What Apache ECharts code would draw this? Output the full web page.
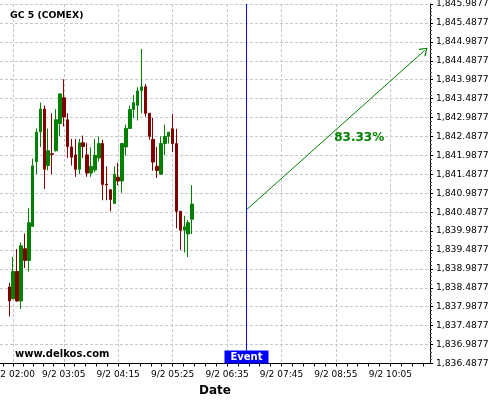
<!DOCTYPE html>
<html>
<head>
<meta charset="utf-8">
<script src="https://cdn.jsdelivr.net/npm/echarts@6/dist/echarts.min.js"></script>
<style>html,body{margin:0;padding:0;background:#fff;}#chart{width:500px;height:400px;}</style>
</head>
<body>
<div id="chart"></div>
<script>
// ---- data (5-minute candles, 9/2) ----
const candleTimes = ['01:55','02:00','02:05','02:10','02:15','02:20','02:25','02:30','02:35','02:40','02:45','02:50','02:55','03:00','03:05','03:10','03:15','03:20','03:25','03:30','03:35','03:40','03:45','03:50','03:55','04:00','04:05','04:10','04:15','04:20','04:25','04:30','04:35','04:40','04:45','04:50','04:55','05:00','05:05','05:10','05:15','05:20','05:25','05:30','05:35','05:40','05:45','05:50'];
const opens  = [1838.51,1838.20,1838.92,1838.14,1839.52,1839.21,1840.11,1841.82,1842.61,1843.21,1841.72,1842.03,1842.11,1842.83,1843.51,1842.93,1842.21,1842.00,1841.62,1842.32,1842.00,1841.52,1841.60,1841.92,1842.30,1841.23,1841.08,1840.72,1841.41,1841.31,1842.21,1842.70,1843.20,1843.31,1843.70,1843.80,1843.10,1842.41,1841.70,1841.49,1842.30,1842.49,1842.69,1842.30,1840.51,1840.01,1839.91,1840.30];
const closes = [1838.14,1838.92,1838.14,1839.60,1839.21,1840.21,1841.71,1842.60,1843.21,1841.62,1842.11,1842.01,1842.93,1843.61,1843.00,1842.22,1841.94,1841.62,1842.32,1842.22,1841.52,1841.70,1841.99,1842.30,1841.22,1841.21,1840.82,1841.49,1841.31,1842.30,1842.70,1843.20,1843.38,1843.69,1843.80,1843.10,1842.49,1841.81,1841.59,1842.30,1842.49,1842.60,1842.30,1840.51,1840.01,1840.10,1840.21,1840.70];
const lows   = [1837.73,1838.18,1838.12,1837.93,1839.01,1838.92,1840.10,1841.49,1842.21,1841.10,1841.59,1841.49,1842.09,1842.49,1842.75,1841.92,1841.72,1841.42,1841.49,1841.92,1841.42,1841.42,1841.54,1841.82,1840.80,1840.80,1840.51,1840.70,1841.20,1841.00,1841.99,1842.70,1842.98,1842.91,1843.10,1843.01,1842.40,1841.58,1841.39,1841.49,1841.99,1842.30,1842.08,1840.06,1839.49,1839.42,1839.30,1839.91];
const highs  = [1838.62,1839.30,1839.51,1839.69,1839.92,1840.59,1841.90,1842.70,1843.38,1843.31,1842.70,1843.10,1843.21,1843.63,1844.00,1843.10,1842.42,1842.42,1842.42,1842.51,1842.31,1842.20,1842.42,1842.49,1842.40,1841.70,1841.08,1841.70,1841.79,1842.30,1842.80,1843.30,1843.58,1843.79,1844.80,1843.87,1843.10,1842.98,1842.21,1842.49,1842.80,1842.60,1843.08,1842.69,1840.51,1840.39,1840.28,1841.20];

// axis
const axisStart = '01:43';
const axisEnd = '10:56';
const datePrefix = '9/2 ';
const tickLabels = ['02:00','03:05','04:15','05:25','06:35','07:45','08:55','10:05'];
const yMin = 1836.4877, yMax = 1845.9877, yStep = 0.5;

// annotations
const titleText = 'GC 5 (COMEX)';
const watermark = 'www.delkos.com';
const eventTime = '07:00';
const eventText = 'Event';
const arrowFrom = ['07:00', 1840.55];
const arrowTo   = ['10:49', 1844.76];
const forecastText = '83.33%';
const forecastAt = ['09:25', 1842.44];

// ---- build ----
function toMin(s){const p=s.split(':').map(Number);return p[0]*60+p[1];}
function fromMin(m){return String(Math.floor(m/60)).padStart(2,'0')+':'+String(m%60).padStart(2,'0');}
const t0 = toMin(axisStart), t1 = toMin(axisEnd);
const categories = [];
for (let m = t0; m <= t1; m++) categories.push(fromMin(m));
const idxOf = t => toMin(t) - t0;

const candleData = categories.map(() => '-');
candleTimes.forEach((t, i) => { candleData[idxOf(t)] = [opens[i], closes[i], lows[i], highs[i]]; });

const li = tickLabels.map(idxOf);
const labelIdx = new Set(li);
const tickIdx = new Set(li);
for (let k = 0; k < li.length - 1; k++) {
  for (let j = 1; j < 5; j++) tickIdx.add(li[k] + Math.round(j * (li[k+1] - li[k]) / 5));
}
for (let m = li[0] - 13; m >= 0; m -= 13) tickIdx.add(m);
for (let m = li[li.length-1] + 14; m < categories.length; m += 14) tickIdx.add(m);

function fmtNum(v){
  const k = Math.round((v - yMin) / yStep);
  const val = yMin + k * yStep;
  const s = val.toFixed(4).split('.');
  return s[0].replace(/\B(?=(\d{3})+(?!\d))/g, ',') + '.' + s[1];
}

const FONT = 'DejaVu Sans';
const GREEN = '#008000';
const BLUE = '#0000ff';
const eIdx = idxOf(eventTime);
const chart = echarts.init(document.getElementById('chart'), null, {renderer: 'canvas'});
chart.setOption({
  animation: false,
  backgroundColor: '#ffffff',
  title: [
    {text: titleText, left: 10, top: 11, padding: 0,
     textStyle: {fontFamily: FONT, fontSize: 9.3, fontWeight: 'bold', color: '#000'}},
    {text: watermark, left: 15, top: 349, padding: 0,
     textStyle: {fontFamily: FONT, fontSize: 10, fontWeight: 'bold', color: '#000'}}
  ],
  grid: {left: 0, right: 70, top: 4, bottom: 36.5, containLabel: false, outerBoundsMode: 'none'},
  xAxis: {
    type: 'category',
    data: categories,
    boundaryGap: false,
    name: 'Date',
    nameLocation: 'middle',
    nameGap: 19,
    nameTextStyle: {fontFamily: FONT, fontSize: 12, fontWeight: 'bold', color: '#000'},
    axisLine: {show: true, lineStyle: {color: '#000', width: 1}},
    axisTick: {show: true, length: 3, interval: (i) => tickIdx.has(i), lineStyle: {color: '#000'}},
    axisLabel: {interval: (i) => labelIdx.has(i), formatter: v => datePrefix + v, margin: 7,
                hideOverlap: false,
                fontFamily: FONT, fontSize: 9, color: '#000'},
    splitLine: {show: true, interval: (i) => labelIdx.has(i),
                lineStyle: {color: '#c8c8c8', type: [3, 2], width: 1}}
  },
  yAxis: {
    type: 'value',
    position: 'right',
    min: yMin, max: yMax, interval: yStep,
    axisLine: {show: true, lineStyle: {color: '#000', width: 1}},
    axisTick: {show: true, inside: false, length: 3, lineStyle: {color: '#000'}},
    minorTick: {show: true, splitNumber: 5, length: 2, lineStyle: {color: '#555'}},
    axisLabel: {formatter: fmtNum, margin: 6, fontFamily: FONT, fontSize: 9.2, color: '#000'},
    splitLine: {show: true, lineStyle: {color: '#c8c8c8', type: [3, 2], width: 1}}
  },
  series: [{
    type: 'candlestick',
    data: candleData,
    barWidth: 3,
    itemStyle: {color: GREEN, color0: '#800000', borderColor: GREEN, borderColor0: '#800000', borderWidth: 1},
    markLine: {
      silent: true,
      animation: false,
      symbol: ['none', 'none'],
      label: {show: false},
      lineStyle: {color: GREEN, width: 1, type: 'solid', opacity: 1},
      data: [
        [
          {coord: [idxOf(arrowFrom[0]), arrowFrom[1]], symbol: 'none'},
          {coord: [idxOf(arrowTo[0]), arrowTo[1]],
           symbol: 'path://M0,0 L6,8 L5,9 L0,2.2 L-5,9 L-6,8 Z', symbolSize: [10, 8]}
        ]
      ]
    },
    markPoint: {
      silent: true,
      animation: false,
      data: [
        {coord: [idxOf(forecastAt[0]), forecastAt[1]], symbol: 'rect', symbolSize: 0,
         label: {show: true, position: 'inside', formatter: forecastText, color: GREEN,
                 fontFamily: FONT, fontSize: 12, fontWeight: 'bold'}}
      ]
    }
  }, {
    type: 'line',
    name: 'event',
    data: [[eIdx, yMin], [eIdx, yMax]],
    symbol: 'none',
    silent: true,
    lineStyle: {color: BLUE, width: 1},
    itemStyle: {color: BLUE},
    markPoint: {
      silent: true,
      animation: false,
      data: [
        {coord: [eIdx, yMin], symbol: 'rect', symbolSize: [44, 13], symbolOffset: [0, -6.5],
         itemStyle: {color: BLUE},
         label: {show: true, position: 'inside', formatter: eventText, color: '#fff',
                 fontFamily: FONT, fontSize: 10, fontWeight: 'bold'}}
      ]
    }
  }]
});
</script>
</body>
</html>
